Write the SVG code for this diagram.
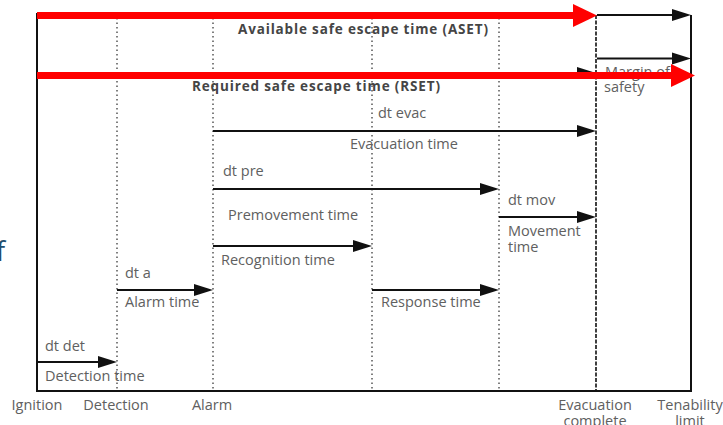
<svg xmlns="http://www.w3.org/2000/svg" width="723" height="425" viewBox="0 0 723 425">
<style>
.frame{stroke:#111;stroke-width:2;fill:none}
.dot{stroke:#555;stroke-width:1.5;stroke-dasharray:1.5 3;fill:none}
.dash{stroke:#111;stroke-width:1.6;stroke-dasharray:4 1.5;fill:none}
.arr{stroke:#111;stroke-width:2;fill:none;marker-end:url(#ah)}
.red{stroke:#ff0000;stroke-width:7;fill:none;marker-end:url(#rh)}
.t{font-family:"Open Sans","DejaVu Sans",sans-serif;font-size:14.5px;fill:#606060}
.b{font-family:"Open Sans","DejaVu Sans",sans-serif;font-size:13.5px;font-weight:bold;fill:#454545}
.c{text-anchor:middle}
</style>
<defs>
<marker id="ah" markerUnits="userSpaceOnUse" markerWidth="20" markerHeight="12" refX="1" refY="6" orient="auto" overflow="visible">
<path d="M0,0 L19,6 L0,12 z" fill="#111"/>
</marker>
<marker id="rh" markerUnits="userSpaceOnUse" markerWidth="25" markerHeight="23" refX="1" refY="11.5" orient="auto" overflow="visible">
<path d="M0,0 L24,11.5 L0,23 z" fill="#ff0000"/>
</marker>
</defs>
<g id="frame">
<path class="frame" d="M37,13 L37,391 L691,391 L691,15"/>
<line class="dot" x1="117" y1="18" x2="117" y2="391"/>
<line class="dot" x1="213" y1="18" x2="213" y2="391"/>
<line class="dot" x1="372" y1="18" x2="372" y2="391"/>
<line class="dot" x1="499" y1="18" x2="499" y2="391"/>
<line class="dash" x1="596" y1="15" x2="596" y2="391"/>
</g>
<g id="connectors">
<line class="arr" x1="597" y1="15" x2="673" y2="15"/>
<line class="arr" x1="597" y1="58.5" x2="673" y2="58.5"/>
<line class="arr" x1="37" y1="73" x2="578" y2="73"/>
<line class="arr" x1="213" y1="131" x2="578" y2="131"/>
<line class="arr" x1="213" y1="189" x2="481" y2="189"/>
<line class="arr" x1="499" y1="217" x2="578" y2="217"/>
<line class="arr" x1="213" y1="246" x2="354" y2="246"/>
<line class="arr" x1="117" y1="290" x2="195" y2="290"/>
<line class="arr" x1="372" y1="290" x2="481" y2="290"/>
<line class="arr" x1="37" y1="362" x2="99" y2="362"/>
</g>
<g id="labels">
<text class="b" x="238" y="34" textLength="250" lengthAdjust="spacing">Available safe escape time (ASET)</text>
<text class="t" x="605" y="77">Margin of</text>
<text class="t" x="604" y="92">safety</text>
<text class="t" x="378" y="118">dt evac</text>
<text class="t" x="350" y="149">Evacuation time</text>
<text class="t" x="223" y="176">dt pre</text>
<text class="t" x="228" y="220">Premovement time</text>
<text class="t" x="508" y="205">dt mov</text>
<text class="t" x="508" y="236">Movement</text>
<text class="t" x="508" y="252">time</text>
<text class="t" x="221" y="265">Recognition time</text>
<text class="t" x="125" y="278">dt a</text>
<text class="t" x="125" y="307">Alarm time</text>
<text class="t" x="381" y="307">Response time</text>
<text class="t" x="45" y="351">dt det</text>
<text class="t" x="45" y="381">Detection time</text>
<text class="t c" x="37" y="410">Ignition</text>
<text class="t c" x="116" y="410">Detection</text>
<text class="t c" x="212" y="410">Alarm</text>
<text class="t c" x="595" y="410">Evacuation</text>
<text class="t c" x="595" y="426">complete</text>
<text class="t c" x="690" y="410">Tenability</text>
<text class="t c" x="690" y="426">limit</text>
<text x="-4" y="261" style="font-family:'Open Sans','DejaVu Sans',sans-serif;font-size:27px;fill:#1f4e6e">f</text>
</g>
<g id="red-arrows">
<line class="red" x1="37" y1="15.5" x2="574" y2="15.5"/>
<line class="red" x1="37" y1="75.5" x2="672" y2="75.5"/>
</g>
<text class="b" x="192" y="91" textLength="248" lengthAdjust="spacing">Required safe escape time (RSET)</text>
</svg>
